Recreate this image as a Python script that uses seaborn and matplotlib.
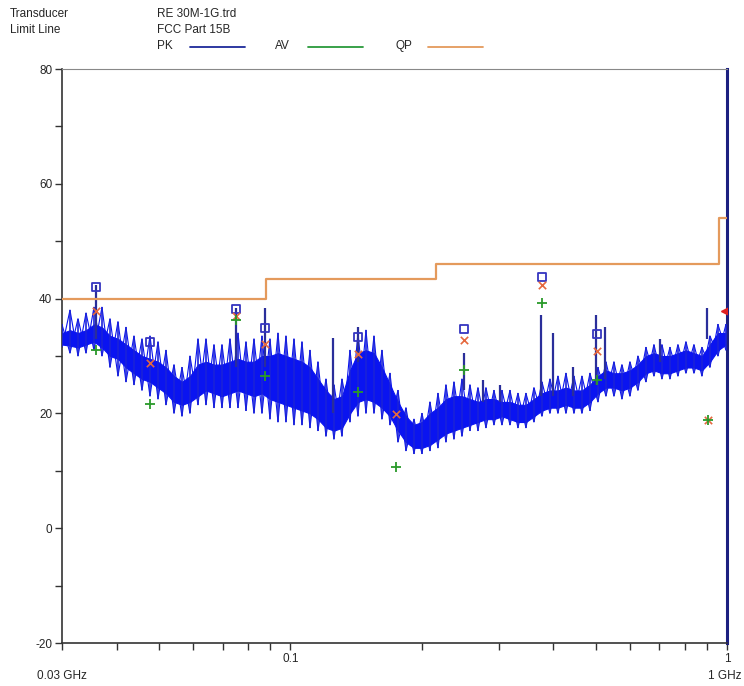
import numpy as np
import seaborn as sns
import matplotlib.pyplot as plt
from matplotlib.ticker import FixedLocator, NullFormatter

# PK sweep (frequency in MHz, level in dBuV/m)
pk_freq = [30.0, 31.29, 32.64, 34.05, 35.51, 37.04, 38.64, 40.30, 42.04, 43.85,
           45.74, 47.71, 49.77, 51.91, 54.15, 56.48, 58.91, 61.45, 64.10, 66.86,
           69.74, 72.74, 75.88, 79.15, 82.56, 86.11, 89.82, 93.69, 97.73, 101.94,
           106.33, 110.91, 115.69, 120.67, 125.87, 131.30, 136.95, 142.85, 149.01, 155.43,
           162.12, 169.11, 176.39, 183.99, 191.92, 200.19, 208.81, 217.81, 227.19, 236.98,
           247.19, 257.84, 268.95, 280.53, 292.62, 305.23, 318.38, 332.09, 346.40, 361.33,
           376.89, 393.13, 410.07, 427.74, 446.17, 465.39, 485.44, 506.36, 528.17, 550.93,
           574.67, 599.43, 625.25, 652.19, 680.29, 709.60, 740.18, 772.07, 805.33, 840.03,
           876.22, 913.97, 953.35, 994.43]
pk_tip = [35.5, 38, 36.5, 37.5, 38.5, 38.5, 36.5, 36, 35, 33.5,
          33, 33.5, 32.5, 31, 28.5, 28, 30, 33, 33, 32,
          32, 33, 34, 32.5, 33, 33.5, 33, 34, 33.5, 33,
          32.5, 31, 29, 26, 25, 26, 31, 34, 34.5, 33.5,
          31, 27, 24, 21, 19, 20, 22, 23.5, 25, 25.5,
          26, 25, 24.5, 24.5, 24, 24, 24, 23.5, 23.5, 24.5,
          25.5, 26, 26.5, 27, 26.5, 26.5, 27, 28, 29, 29,
          28.5, 29, 30, 31.5, 32, 32, 31.5, 32, 32.5, 32,
          31.5, 33.5, 35.5, 35.5]
pk_ctop = [34, 34.5, 34, 34.5, 35.5, 35, 33.5, 33, 32, 31,
           30, 29.5, 29, 28, 26.5, 25.5, 26.5, 28.5, 29, 28.5,
           28.5, 29, 29.5, 29, 29, 30, 30, 30.5, 30, 29.5,
           29, 28, 26, 24, 22.5, 23, 27.5, 30.5, 31, 30.5,
           28, 25, 22, 19.5, 18, 18.5, 20, 21, 22.5, 23,
           23, 22.5, 22, 22.5, 22.5, 22, 22, 21.5, 21.5, 22.5,
           23.5, 24, 24, 24.5, 24, 24, 25, 26.5, 27.5, 27,
           27, 27.5, 28.5, 30, 30.5, 30, 30, 30.5, 31, 30.5,
           30, 32, 34, 34]
pk_cbot = [32, 31.8, 31.5, 32, 32.5, 31.5, 30, 29.5, 28, 27,
           26, 25.5, 24.5, 23.5, 22, 21.5, 22, 23, 24, 23.5,
           23, 23.5, 24, 23.5, 23, 23.5, 22.5, 22, 21.5, 21,
           20.5, 20, 19, 17.5, 17, 17.5, 20, 22, 22.5, 22,
           21, 19.5, 17, 15, 14, 14, 14.5, 15.5, 16.5, 17,
           17.5, 18, 18.5, 19, 19, 19.5, 19, 18.5, 18.5, 19.5,
           20.5, 21, 21, 21.5, 21, 21, 22, 23.5, 24.5, 24.5,
           24, 24.5, 25.5, 27, 27.5, 27, 27, 27.5, 28, 28,
           27.5, 29, 31, 32]
pk_low = [31.5, 30.5, 30, 30.5, 31, 30, 28, 26.5, 25.5, 25,
          24, 23, 22.5, 21.5, 20, 19.5, 20, 21.5, 21.5, 21,
          21, 21, 21, 20.5, 20, 20, 19, 18.5, 18.5, 18,
          18, 17.5, 17, 16, 15.5, 16, 18.5, 19.5, 20, 20,
          19, 18, 15, 13.5, 13, 13, 13.5, 14, 15, 15.5,
          16, 17, 17, 17.5, 18, 18, 18, 17.5, 17.5, 18.5,
          19.5, 20, 20, 20, 20, 20, 20.5, 22, 23, 23,
          22.5, 23, 24, 25.5, 26.5, 26, 26, 26.5, 27, 27,
          26.5, 28, 30, 31]

# narrow single spikes above the noise floor
spike_freq = [35.9, 75.1, 87.5, 125.3, 143.0, 249.9, 276.3, 302.1, 375.2, 399.5,
              444.0, 501.3, 525.6, 702.7, 900.0]
spike_top = [42.4, 38.4, 38.3, 33.1, 35.0, 30.5, 25.8, 25.0, 37.1, 34.0,
             28.1, 37.1, 35.0, 33.0, 38.4]
spike_base = [33, 28, 28, 20, 29, 24, 22, 22, 23, 23,
              23, 25, 26, 29, 33]

# final measurements
meas_freq = [35.9, 47.7, 75.1, 87.5, 143.0, 174.6, 250.0, 376.5, 503.0, 903.0]
pk_meas = [42.0, 32.4, 38.2, 34.9, 33.3, np.nan, 34.7, 43.8, 33.8, np.nan]
qp_meas = [37.8, 28.8, 37.0, 32.1, 30.3, 19.9, 32.8, 42.4, 30.9, 18.8]
av_meas = [31.0, 21.6, 36.2, 26.5, 23.7, 10.7, 27.6, 39.2, 25.8, 18.9]

# FCC Part 15B class B limit (3 m)
limit_freq = [30, 88, 216, 960, 1000]
limit_level = [40, 43.5, 46, 54, 54]

ghz = lambda v: np.asarray(v, dtype=float) / 1000.0

sns.set_style("ticks")
plt.rcParams['font.family'] = ['Liberation Sans', 'DejaVu Sans']
plt.rcParams['axes.unicode_minus'] = False

fig = plt.figure(figsize=(7.44, 6.86), dpi=100)
ax = fig.add_axes([62 / 744, 1 - 643 / 686, 665 / 744, 574 / 686])

blue = '#0a14f0'
navy = '#2a2e9a'

# noise band of the PK trace: solid core plus crossing zigzags and spikes
f = ghz(pk_freq)
tip = np.array(pk_tip)
low = np.array(pk_low)
even = np.arange(len(f)) % 2 == 0
zig_a = np.where(even, tip, low)
zig_b = np.where(even, low, tip)
ax.fill_between(f, pk_cbot, pk_ctop, color=blue, lw=0.8, zorder=2)
sns.lineplot(x=f, y=zig_a, ax=ax, color=blue, lw=0.8, sort=False, estimator=None, zorder=2)
sns.lineplot(x=f, y=zig_b, ax=ax, color=blue, lw=0.8, sort=False, estimator=None, zorder=2)
ax.vlines(f, low, tip, color='#1a22d8', lw=1.2, zorder=3)
ax.vlines(ghz(spike_freq), spike_base, spike_top, color=navy, lw=1.6, zorder=3)

# limit line
sns.lineplot(x=ghz(limit_freq), y=limit_level, ax=ax, color='#e49a5c', lw=1.6,
             drawstyle='steps-post', zorder=4)

# final readings
sns.scatterplot(x=ghz(meas_freq), y=pk_meas, ax=ax, marker='s', s=32,
                facecolor='none', edgecolor='#3535c0', linewidth=1.3, zorder=5)
sns.scatterplot(x=ghz(meas_freq), y=qp_meas, ax=ax, marker='x', s=28,
                color='#e5683e', linewidth=1.2, zorder=5)
sns.scatterplot(x=ghz(meas_freq), y=av_meas, ax=ax, marker='+', s=60,
                color='#2a9a2a', linewidth=1.3, zorder=5)
ax.plot([0.993], [37.8], marker='<', ms=7, color='#e02020', clip_on=True, zorder=6)

ax.set_xscale('log')
ax.set_xlim(0.03, 1.0)
ax.set_ylim(-20, 80)
ax.xaxis.set_major_locator(FixedLocator([0.1, 1.0]))
ax.xaxis.set_minor_locator(FixedLocator([0.03, 0.04, 0.05, 0.06, 0.07, 0.08, 0.09,
                                         0.2, 0.3, 0.4, 0.5, 0.6, 0.7, 0.8, 0.9]))
ax.set_xticklabels(['0.1', '1'])
ax.xaxis.set_minor_formatter(NullFormatter())
ax.set_yticks([-20, 0, 20, 40, 60, 80])
ax.set_yticks([-10, 10, 30, 50, 70], minor=True)
ax.tick_params(which='both', direction='out', length=5, width=1, labelsize=8.5,
               color='#333333', pad=2)
ax.set_xlabel('')
ax.set_ylabel('')

for side in ['left', 'bottom']:
    ax.spines[side].set_color('#333333')
    ax.spines[side].set_linewidth(1.2)
ax.spines['top'].set_visible(True)
ax.spines['top'].set_color('#888888')
ax.spines['right'].set_visible(True)
ax.spines['right'].set_color('#1c2080')
ax.spines['right'].set_linewidth(2.2)

# header block
fig.text(10 / 744, 1 - 14 / 686, 'Transducer', fontsize=8.5, va='center')
fig.text(10 / 744, 1 - 30 / 686, 'Limit Line', fontsize=8.5, va='center')
fig.text(157 / 744, 1 - 14 / 686, 'RE 30M-1G.trd', fontsize=8.5, va='center')
fig.text(157 / 744, 1 - 30 / 686, 'FCC Part 15B', fontsize=8.5, va='center')
legend_items = [('PK', 157, '#1c2a9a'), ('AV', 275, '#2a9a3a'), ('QP', 395, '#e49a5c')]
for name, px, col in legend_items:
    fig.text(px / 744, 1 - 46 / 686, name, fontsize=8.5, va='center')
    fig.add_artist(plt.Line2D([(px + 33) / 744, (px + 88) / 744],
                              [1 - 47 / 686, 1 - 47 / 686], color=col, lw=1.3))

fig.text(37 / 744, 1 - 676 / 686, '0.03 GHz', fontsize=8.5, va='center')
fig.text(742 / 744, 1 - 676 / 686, '1 GHz', fontsize=8.5, va='center', ha='right')

fig.savefig('out.png', dpi=100)
